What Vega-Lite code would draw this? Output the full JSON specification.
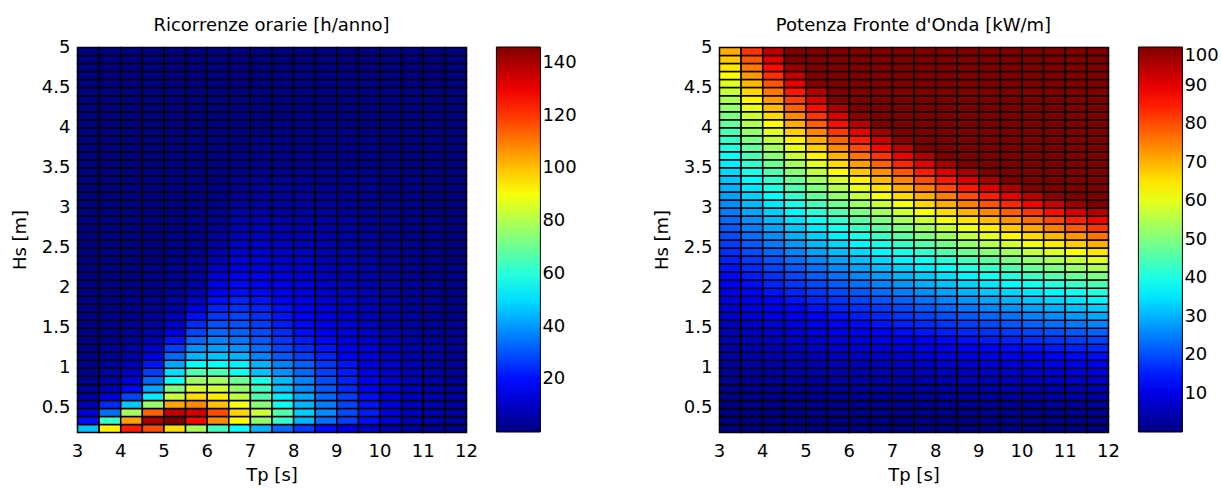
{
"$schema": "https://vega.github.io/schema/vega-lite/v6.json",
"background": "white",
"padding": {"left": 10, "top": 16, "right": 0, "bottom": 0},
"config": {
  "font": "DejaVu Sans",
  "view": {"stroke": "black", "strokeWidth": 1},
  "axis": {"grid": false, "ticks": false, "tickSize": 0, "domain": false, "labelFont": "DejaVu Sans", "labelFontSize": 18, "labelColor": "black", "titleFont": "DejaVu Sans", "titleFontSize": 18, "titleFontWeight": "normal", "titleColor": "black", "labelFlush": false, "labelOverlap": false},
  "axisX": {"labelPadding": 10, "titlePadding": 6},
  "axisY": {"labelPadding": 7, "titlePadding": 12},
  "title": {"font": "DejaVu Sans", "fontSize": 18, "fontWeight": "normal", "color": "black", "offset": 3, "baseline": "alphabetic", "frame": "group"},
  "legend": {"orient": "none", "legendX": 419.4, "legendY": 0, "direction": "vertical", "gradientLength": 385, "gradientThickness": 44, "gradientStrokeColor": "black", "gradientStrokeWidth": 1, "labelFont": "DejaVu Sans", "labelFontSize": 18, "labelColor": "black", "labelOffset": 2, "labelBaseline": "middle"}
},
"spacing": 253,
"bounds": "flush",
"resolve": {"scale": {"color": "independent"}, "legend": {"color": "independent"}},
"hconcat": [
 {
  "title": {"text": "Ricorrenze orarie [h/anno]"},
  "width": 389, "height": 385,
  "data": {"values": "t,h,v\n3,0.2,46\n3.5,0.2,93\n4,0.2,124\n4.5,0.2,117\n5,0.2,96\n5.5,0.2,79\n6,0.2,64\n6.5,0.2,55\n7,0.2,44\n7.5,0.2,33\n8,0.2,26\n8.5,0.2,20\n9,0.2,14\n9.5,0.2,10\n10,0.2,6\n10.5,0.2,4\n11,0.2,3\n11.5,0.2,2\n3,0.3,20\n3.5,0.3,62\n4,0.3,105\n4.5,0.3,140\n5,0.3,146\n5.5,0.3,128\n6,0.3,108\n6.5,0.3,92\n7,0.3,76\n7.5,0.3,62\n8,0.3,44\n8.5,0.3,34\n9,0.3,27\n9.5,0.3,20\n10,0.3,13\n10.5,0.3,8\n11,0.3,6\n11.5,0.3,4\n3,0.4,13\n3.5,0.4,34\n4,0.4,78\n4.5,0.4,114\n5,0.4,136\n5.5,0.4,134\n6,0.4,117\n6.5,0.4,97\n7,0.4,84\n7.5,0.4,66\n8,0.4,48\n8.5,0.4,38\n9,0.4,29\n9.5,0.4,22\n10,0.4,14\n10.5,0.4,9\n11,0.4,7\n11.5,0.4,5\n3,0.5,8\n3.5,0.5,24\n4,0.5,47\n4.5,0.5,76\n5,0.5,104\n5.5,0.5,108\n6,0.5,100\n6.5,0.5,90\n7,0.5,74\n7.5,0.5,56\n8,0.5,44\n8.5,0.5,36\n9,0.5,28\n9.5,0.5,21\n10,0.5,14\n10.5,0.5,9\n11,0.5,7\n11.5,0.5,5\n3,0.6,5\n3.5,0.6,14\n4,0.6,28\n4.5,0.6,52\n5,0.6,83\n5.5,0.6,96\n6,0.6,94\n6.5,0.6,82\n7,0.6,66\n7.5,0.6,52\n8,0.6,42\n8.5,0.6,33\n9,0.6,27\n9.5,0.6,20\n10,0.6,14\n10.5,0.6,9\n11,0.6,7\n11.5,0.6,5\n3,0.7,4\n3.5,0.7,9\n4,0.7,19\n4.5,0.7,42\n5,0.7,73\n5.5,0.7,85\n6,0.7,84\n6.5,0.7,76\n7,0.7,63\n7.5,0.7,46\n8,0.7,38\n8.5,0.7,31\n9,0.7,24\n9.5,0.7,18\n10,0.7,13\n10.5,0.7,9\n11,0.7,6\n11.5,0.7,4\n3,0.8,3\n3.5,0.8,6\n4,0.8,14\n4.5,0.8,33\n5,0.8,56\n5.5,0.8,77\n6,0.8,78\n6.5,0.8,70\n7,0.8,58\n7.5,0.8,45\n8,0.8,37\n8.5,0.8,29\n9,0.8,23\n9.5,0.8,17\n10,0.8,12\n10.5,0.8,8\n11,0.8,6\n11.5,0.8,4\n3,0.9,2\n3.5,0.9,5\n4,0.9,10\n4.5,0.9,27\n5,0.9,50\n5.5,0.9,66\n6,0.9,65\n6.5,0.9,56\n7,0.9,46\n7.5,0.9,39\n8,0.9,33\n8.5,0.9,27\n9,0.9,22\n9.5,0.9,16\n10,0.9,11\n10.5,0.9,8\n11,0.9,6\n11.5,0.9,4\n3,1,2\n3.5,1,4\n4,1,8\n4.5,1,21\n5,1,42\n5.5,1,55\n6,1,55\n6.5,1,53\n7,1,44\n7.5,1,37\n8,1,32\n8.5,1,26\n9,1,21\n9.5,1,15\n10,1,11\n10.5,1,8\n11,1,5\n11.5,1,4\n3,1.1,2\n3.5,1.1,3\n4,1.1,6\n4.5,1.1,15\n5,1.1,33\n5.5,1.1,44\n6,1.1,46\n6.5,1.1,44\n7,1.1,37\n7.5,1.1,31\n8,1.1,27\n8.5,1.1,23\n9,1.1,18\n9.5,1.1,14\n10,1.1,10\n10.5,1.1,7\n11,1.1,5\n11.5,1.1,3\n3,1.2,1\n3.5,1.2,3\n4,1.2,5\n4.5,1.2,11\n5,1.2,27\n5.5,1.2,39\n6,1.2,41\n6.5,1.2,39\n7,1.2,34\n7.5,1.2,28\n8,1.2,24\n8.5,1.2,21\n9,1.2,17\n9.5,1.2,13\n10,1.2,9\n10.5,1.2,7\n11,1.2,5\n11.5,1.2,3\n3,1.3,1\n3.5,1.3,2\n4,1.3,4\n4.5,1.3,8\n5,1.3,21\n5.5,1.3,33\n6,1.3,37\n6.5,1.3,35\n7,1.3,31\n7.5,1.3,26\n8,1.3,22\n8.5,1.3,19\n9,1.3,15\n9.5,1.3,12\n10,1.3,8\n10.5,1.3,6\n11,1.3,4\n11.5,1.3,3\n3,1.4,1\n3.5,1.4,2\n4,1.4,3\n4.5,1.4,6\n5,1.4,15\n5.5,1.4,28\n6,1.4,33\n6.5,1.4,32\n7,1.4,29\n7.5,1.4,24\n8,1.4,20\n8.5,1.4,17\n9,1.4,14\n9.5,1.4,11\n10,1.4,8\n10.5,1.4,5\n11,1.4,4\n11.5,1.4,3\n3,1.5,1\n3.5,1.5,2\n4,1.5,3\n4.5,1.5,5\n5,1.5,11\n5.5,1.5,24\n6,1.5,30\n6.5,1.5,30\n7,1.5,27\n7.5,1.5,22\n8,1.5,19\n8.5,1.5,16\n9,1.5,13\n9.5,1.5,10\n10,1.5,7\n10.5,1.5,5\n11,1.5,4\n11.5,1.5,3\n3,1.6,1\n3.5,1.6,2\n4,1.6,2\n4.5,1.6,4\n5,1.6,8\n5.5,1.6,20\n6,1.6,26\n6.5,1.6,28\n7,1.6,25\n7.5,1.6,21\n8,1.6,18\n8.5,1.6,15\n9,1.6,12\n9.5,1.6,9\n10,1.6,7\n10.5,1.6,5\n11,1.6,3\n11.5,1.6,2\n3,1.7,1\n3.5,1.7,1\n4,1.7,2\n4.5,1.7,3\n5,1.7,6\n5.5,1.7,15\n6,1.7,23\n6.5,1.7,25\n7,1.7,23\n7.5,1.7,20\n8,1.7,17\n8.5,1.7,14\n9,1.7,11\n9.5,1.7,9\n10,1.7,6\n10.5,1.7,4\n11,1.7,3\n11.5,1.7,2\n3,1.8,1\n3.5,1.8,1\n4,1.8,2\n4.5,1.8,3\n5,1.8,5\n5.5,1.8,10\n6,1.8,20\n6.5,1.8,23\n7,1.8,21\n7.5,1.8,18\n8,1.8,16\n8.5,1.8,13\n9,1.8,11\n9.5,1.8,8\n10,1.8,6\n10.5,1.8,4\n11,1.8,3\n11.5,1.8,2\n3,1.9,1\n3.5,1.9,1\n4,1.9,2\n4.5,1.9,2\n5,1.9,4\n5.5,1.9,8\n6,1.9,17\n6.5,1.9,20\n7,1.9,19\n7.5,1.9,17\n8,1.9,15\n8.5,1.9,12\n9,1.9,10\n9.5,1.9,8\n10,1.9,5\n10.5,1.9,4\n11,1.9,3\n11.5,1.9,2\n3,2,1\n3.5,2,1\n4,2,1\n4.5,2,2\n5,2,3\n5.5,2,6\n6,2,16\n6.5,2,19\n7,2,18\n7.5,2,16\n8,2,14\n8.5,2,11\n9,2,9\n9.5,2,7\n10,2,5\n10.5,2,4\n11,2,3\n11.5,2,2\n3,2.1,1\n3.5,2.1,1\n4,2.1,1\n4.5,2.1,2\n5,2.1,3\n5.5,2.1,5\n6,2.1,14\n6.5,2.1,18\n7,2.1,17\n7.5,2.1,15\n8,2.1,13\n8.5,2.1,10\n9,2.1,8\n9.5,2.1,7\n10,2.1,5\n10.5,2.1,3\n11,2.1,2\n11.5,2.1,2\n3,2.2,1\n3.5,2.2,1\n4,2.2,1\n4.5,2.2,2\n5,2.2,3\n5.5,2.2,4\n6,2.2,11\n6.5,2.2,15\n7,2.2,15\n7.5,2.2,13\n8,2.2,12\n8.5,2.2,9\n9,2.2,8\n9.5,2.2,6\n10,2.2,4\n10.5,2.2,3\n11,2.2,2\n11.5,2.2,2\n3,2.3,1\n3.5,2.3,1\n4,2.3,1\n4.5,2.3,1\n5,2.3,2\n5.5,2.3,4\n6,2.3,9\n6.5,2.3,14\n7,2.3,14\n7.5,2.3,12\n8,2.3,11\n8.5,2.3,9\n9,2.3,7\n9.5,2.3,6\n10,2.3,4\n10.5,2.3,3\n11,2.3,2\n11.5,2.3,1\n3,2.4,1\n3.5,2.4,1\n4,2.4,1\n4.5,2.4,1\n5,2.4,2\n5.5,2.4,3\n6,2.4,7\n6.5,2.4,12\n7,2.4,13\n7.5,2.4,11\n8,2.4,10\n8.5,2.4,8\n9,2.4,7\n9.5,2.4,5\n10,2.4,4\n10.5,2.4,3\n11,2.4,2\n11.5,2.4,1\n3,2.5,1\n3.5,2.5,1\n4,2.5,1\n4.5,2.5,1\n5,2.5,2\n5.5,2.5,3\n6,2.5,6\n6.5,2.5,11\n7,2.5,12\n7.5,2.5,10\n8,2.5,9\n8.5,2.5,8\n9,2.5,6\n9.5,2.5,5\n10,2.5,4\n10.5,2.5,3\n11,2.5,2\n11.5,2.5,1\n3,2.6,1\n3.5,2.6,1\n4,2.6,1\n4.5,2.6,1\n5,2.6,2\n5.5,2.6,2\n6,2.6,5\n6.5,2.6,9\n7,2.6,10\n7.5,2.6,9\n8,2.6,8\n8.5,2.6,7\n9,2.6,6\n9.5,2.6,5\n10,2.6,3\n10.5,2.6,2\n11,2.6,2\n11.5,2.6,1\n3,2.7,1\n3.5,2.7,1\n4,2.7,1\n4.5,2.7,1\n5,2.7,1\n5.5,2.7,2\n6,2.7,4\n6.5,2.7,8\n7,2.7,9\n7.5,2.7,8\n8,2.7,7\n8.5,2.7,6\n9,2.7,5\n9.5,2.7,4\n10,2.7,3\n10.5,2.7,2\n11,2.7,2\n11.5,2.7,1\n3,2.8,1\n3.5,2.8,1\n4,2.8,1\n4.5,2.8,1\n5,2.8,1\n5.5,2.8,2\n6,2.8,3\n6.5,2.8,7\n7,2.8,8\n7.5,2.8,7\n8,2.8,6\n8.5,2.8,6\n9,2.8,5\n9.5,2.8,4\n10,2.8,3\n10.5,2.8,2\n11,2.8,2\n11.5,2.8,1\n3,2.9,0\n3.5,2.9,1\n4,2.9,1\n4.5,2.9,1\n5,2.9,1\n5.5,2.9,2\n6,2.9,3\n6.5,2.9,6\n7,2.9,7\n7.5,2.9,6\n8,2.9,6\n8.5,2.9,5\n9,2.9,4\n9.5,2.9,4\n10,2.9,3\n10.5,2.9,2\n11,2.9,1\n11.5,2.9,1\n3,3,0\n3.5,3,1\n4,3,1\n4.5,3,1\n5,3,1\n5.5,3,1\n6,3,2\n6.5,3,5\n7,3,6\n7.5,3,6\n8,3,5\n8.5,3,5\n9,3,4\n9.5,3,3\n10,3,3\n10.5,3,2\n11,3,1\n11.5,3,1\n3,3.1,0\n3.5,3.1,0\n4,3.1,1\n4.5,3.1,1\n5,3.1,1\n5.5,3.1,1\n6,3.1,2\n6.5,3.1,4\n7,3.1,5\n7.5,3.1,5\n8,3.1,5\n8.5,3.1,4\n9,3.1,4\n9.5,3.1,3\n10,3.1,2\n10.5,3.1,2\n11,3.1,1\n11.5,3.1,1\n3,3.2,0\n3.5,3.2,0\n4,3.2,1\n4.5,3.2,1\n5,3.2,1\n5.5,3.2,1\n6,3.2,2\n6.5,3.2,3\n7,3.2,4\n7.5,3.2,4\n8,3.2,4\n8.5,3.2,4\n9,3.2,3\n9.5,3.2,3\n10,3.2,2\n10.5,3.2,2\n11,3.2,1\n11.5,3.2,1\n3,3.3,0\n3.5,3.3,0\n4,3.3,0\n4.5,3.3,1\n5,3.3,1\n5.5,3.3,1\n6,3.3,1\n6.5,3.3,3\n7,3.3,4\n7.5,3.3,4\n8,3.3,4\n8.5,3.3,3\n9,3.3,3\n9.5,3.3,3\n10,3.3,2\n10.5,3.3,2\n11,3.3,1\n11.5,3.3,1\n3,3.4,0\n3.5,3.4,0\n4,3.4,0\n4.5,3.4,1\n5,3.4,1\n5.5,3.4,1\n6,3.4,1\n6.5,3.4,2\n7,3.4,3\n7.5,3.4,3\n8,3.4,3\n8.5,3.4,3\n9,3.4,3\n9.5,3.4,2\n10,3.4,2\n10.5,3.4,1\n11,3.4,1\n11.5,3.4,1\n3,3.5,0\n3.5,3.5,0\n4,3.5,0\n4.5,3.5,0\n5,3.5,1\n5.5,3.5,1\n6,3.5,1\n6.5,3.5,2\n7,3.5,3\n7.5,3.5,3\n8,3.5,3\n8.5,3.5,3\n9,3.5,2\n9.5,3.5,2\n10,3.5,2\n10.5,3.5,1\n11,3.5,1\n11.5,3.5,1\n3,3.6,0\n3.5,3.6,0\n4,3.6,0\n4.5,3.6,0\n5,3.6,1\n5.5,3.6,1\n6,3.6,1\n6.5,3.6,2\n7,3.6,2\n7.5,3.6,3\n8,3.6,3\n8.5,3.6,2\n9,3.6,2\n9.5,3.6,2\n10,3.6,2\n10.5,3.6,1\n11,3.6,1\n11.5,3.6,1\n3,3.7,0\n3.5,3.7,0\n4,3.7,0\n4.5,3.7,0\n5,3.7,0\n5.5,3.7,1\n6,3.7,1\n6.5,3.7,1\n7,3.7,2\n7.5,3.7,2\n8,3.7,2\n8.5,3.7,2\n9,3.7,2\n9.5,3.7,2\n10,3.7,1\n10.5,3.7,1\n11,3.7,1\n11.5,3.7,1\n3,3.8,0\n3.5,3.8,0\n4,3.8,0\n4.5,3.8,0\n5,3.8,0\n5.5,3.8,1\n6,3.8,1\n6.5,3.8,1\n7,3.8,2\n7.5,3.8,2\n8,3.8,2\n8.5,3.8,2\n9,3.8,2\n9.5,3.8,2\n10,3.8,1\n10.5,3.8,1\n11,3.8,1\n11.5,3.8,1\n3,3.9,0\n3.5,3.9,0\n4,3.9,0\n4.5,3.9,0\n5,3.9,0\n5.5,3.9,0\n6,3.9,1\n6.5,3.9,1\n7,3.9,1\n7.5,3.9,2\n8,3.9,2\n8.5,3.9,2\n9,3.9,2\n9.5,3.9,1\n10,3.9,1\n10.5,3.9,1\n11,3.9,1\n11.5,3.9,1\n3,4,0\n3.5,4,0\n4,4,0\n4.5,4,0\n5,4,0\n5.5,4,0\n6,4,1\n6.5,4,1\n7,4,1\n7.5,4,2\n8,4,2\n8.5,4,2\n9,4,1\n9.5,4,1\n10,4,1\n10.5,4,1\n11,4,1\n11.5,4,1\n3,4.1,0\n3.5,4.1,0\n4,4.1,0\n4.5,4.1,0\n5,4.1,0\n5.5,4.1,0\n6,4.1,0\n6.5,4.1,1\n7,4.1,1\n7.5,4.1,1\n8,4.1,2\n8.5,4.1,1\n9,4.1,1\n9.5,4.1,1\n10,4.1,1\n10.5,4.1,1\n11,4.1,1\n11.5,4.1,1\n3,4.2,0\n3.5,4.2,0\n4,4.2,0\n4.5,4.2,0\n5,4.2,0\n5.5,4.2,0\n6,4.2,0\n6.5,4.2,1\n7,4.2,1\n7.5,4.2,1\n8,4.2,1\n8.5,4.2,1\n9,4.2,1\n9.5,4.2,1\n10,4.2,1\n10.5,4.2,1\n11,4.2,1\n11.5,4.2,0\n3,4.3,0\n3.5,4.3,0\n4,4.3,0\n4.5,4.3,0\n5,4.3,0\n5.5,4.3,0\n6,4.3,0\n6.5,4.3,0\n7,4.3,1\n7.5,4.3,1\n8,4.3,1\n8.5,4.3,1\n9,4.3,1\n9.5,4.3,1\n10,4.3,1\n10.5,4.3,1\n11,4.3,0\n11.5,4.3,0\n3,4.4,0\n3.5,4.4,0\n4,4.4,0\n4.5,4.4,0\n5,4.4,0\n5.5,4.4,0\n6,4.4,0\n6.5,4.4,0\n7,4.4,1\n7.5,4.4,1\n8,4.4,1\n8.5,4.4,1\n9,4.4,1\n9.5,4.4,1\n10,4.4,1\n10.5,4.4,0\n11,4.4,0\n11.5,4.4,0\n3,4.5,0\n3.5,4.5,0\n4,4.5,0\n4.5,4.5,0\n5,4.5,0\n5.5,4.5,0\n6,4.5,0\n6.5,4.5,0\n7,4.5,0\n7.5,4.5,1\n8,4.5,1\n8.5,4.5,1\n9,4.5,1\n9.5,4.5,1\n10,4.5,0\n10.5,4.5,0\n11,4.5,0\n11.5,4.5,0\n3,4.6,0\n3.5,4.6,0\n4,4.6,0\n4.5,4.6,0\n5,4.6,0\n5.5,4.6,0\n6,4.6,0\n6.5,4.6,0\n7,4.6,0\n7.5,4.6,1\n8,4.6,1\n8.5,4.6,1\n9,4.6,1\n9.5,4.6,0\n10,4.6,0\n10.5,4.6,0\n11,4.6,0\n11.5,4.6,0\n3,4.7,0\n3.5,4.7,0\n4,4.7,0\n4.5,4.7,0\n5,4.7,0\n5.5,4.7,0\n6,4.7,0\n6.5,4.7,0\n7,4.7,0\n7.5,4.7,0\n8,4.7,1\n8.5,4.7,1\n9,4.7,0\n9.5,4.7,0\n10,4.7,0\n10.5,4.7,0\n11,4.7,0\n11.5,4.7,0\n3,4.8,0\n3.5,4.8,0\n4,4.8,0\n4.5,4.8,0\n5,4.8,0\n5.5,4.8,0\n6,4.8,0\n6.5,4.8,0\n7,4.8,0\n7.5,4.8,0\n8,4.8,0\n8.5,4.8,0\n9,4.8,0\n9.5,4.8,0\n10,4.8,0\n10.5,4.8,0\n11,4.8,0\n11.5,4.8,0\n3,4.9,0\n3.5,4.9,0\n4,4.9,0\n4.5,4.9,0\n5,4.9,0\n5.5,4.9,0\n6,4.9,0\n6.5,4.9,0\n7,4.9,0\n7.5,4.9,0\n8,4.9,0\n8.5,4.9,0\n9,4.9,0\n9.5,4.9,0\n10,4.9,0\n10.5,4.9,0\n11,4.9,0\n11.5,4.9,0", "format": {"type": "csv", "parse": {"t": "number", "h": "number", "v": "number"}}},
  "mark": {"type": "rect", "stroke": "black", "strokeWidth": 1.5},
  "encoding": {
    "x": {"field": "t", "type": "quantitative", "bin": {"binned": true, "step": 0.5}, "scale": {"domain": [3, 12], "nice": false, "zero": false}, "axis": {"title": "Tp [s]", "values": [3,4,5,6,7,8,9,10,11,12], "format": "~g"}},
    "y": {"field": "h", "type": "quantitative", "bin": {"binned": true, "step": 0.1}, "scale": {"domain": [0.2, 5], "nice": false, "zero": false}, "axis": {"title": "Hs [m]", "values": [0.5,1,1.5,2,2.5,3,3.5,4,4.5,5], "format": "~g"}},
    "color": {"field": "v", "type": "quantitative", "scale": {"domain": [0,18.25,36.5,54.75,73,91.25,109.5,127.75,146], "range": ["#000080","#0000ff","#0080ff","#00ffff","#80ff80","#ffff00","#ff8000","#ff0000","#800000"], "interpolate": "rgb", "clamp": true, "zero": false, "nice": false}, "legend": {"title": null, "values": [20,40,60,80,100,120,140]}}
  }
 },
 {
  "title": {"text": "Potenza Fronte d'Onda [kW/m]"},
  "width": 389, "height": 385,
  "data": {"values": "t,h,v\n3,0.2,0.1\n3.5,0.2,0.1\n4,0.2,0.2\n4.5,0.2,0.2\n5,0.2,0.2\n5.5,0.2,0.2\n6,0.2,0.2\n6.5,0.2,0.3\n7,0.2,0.3\n7.5,0.2,0.3\n8,0.2,0.3\n8.5,0.2,0.3\n9,0.2,0.4\n9.5,0.2,0.4\n10,0.2,0.4\n10.5,0.2,0.4\n11,0.2,0.4\n11.5,0.2,0.5\n3,0.3,0.3\n3.5,0.3,0.3\n4,0.3,0.4\n4.5,0.3,0.4\n5,0.3,0.4\n5.5,0.3,0.5\n6,0.3,0.5\n6.5,0.3,0.6\n7,0.3,0.6\n7.5,0.3,0.7\n8,0.3,0.7\n8.5,0.3,0.7\n9,0.3,0.8\n9.5,0.3,0.8\n10,0.3,0.9\n10.5,0.3,0.9\n11,0.3,1\n11.5,0.3,1\n3,0.4,0.5\n3.5,0.4,0.5\n4,0.4,0.6\n4.5,0.4,0.7\n5,0.4,0.8\n5.5,0.4,0.9\n6,0.4,0.9\n6.5,0.4,1\n7,0.4,1.1\n7.5,0.4,1.2\n8,0.4,1.3\n8.5,0.4,1.3\n9,0.4,1.4\n9.5,0.4,1.5\n10,0.4,1.6\n10.5,0.4,1.6\n11,0.4,1.7\n11.5,0.4,1.8\n3,0.5,0.7\n3.5,0.5,0.9\n4,0.5,1\n4.5,0.5,1.1\n5,0.5,1.2\n5.5,0.5,1.3\n6,0.5,1.5\n6.5,0.5,1.6\n7,0.5,1.7\n7.5,0.5,1.8\n8,0.5,2\n8.5,0.5,2.1\n9,0.5,2.2\n9.5,0.5,2.3\n10,0.5,2.5\n10.5,0.5,2.6\n11,0.5,2.7\n11.5,0.5,2.8\n3,0.6,1.1\n3.5,0.6,1.2\n4,0.6,1.4\n4.5,0.6,1.6\n5,0.6,1.8\n5.5,0.6,1.9\n6,0.6,2.1\n6.5,0.6,2.3\n7,0.6,2.5\n7.5,0.6,2.6\n8,0.6,2.8\n8.5,0.6,3\n9,0.6,3.2\n9.5,0.6,3.4\n10,0.6,3.5\n10.5,0.6,3.7\n11,0.6,3.9\n11.5,0.6,4.1\n3,0.7,1.4\n3.5,0.7,1.7\n4,0.7,1.9\n4.5,0.7,2.2\n5,0.7,2.4\n5.5,0.7,2.6\n6,0.7,2.9\n6.5,0.7,3.1\n7,0.7,3.4\n7.5,0.7,3.6\n8,0.7,3.8\n8.5,0.7,4.1\n9,0.7,4.3\n9.5,0.7,4.6\n10,0.7,4.8\n10.5,0.7,5\n11,0.7,5.3\n11.5,0.7,5.5\n3,0.8,1.9\n3.5,0.8,2.2\n4,0.8,2.5\n4.5,0.8,2.8\n5,0.8,3.1\n5.5,0.8,3.4\n6,0.8,3.8\n6.5,0.8,4.1\n7,0.8,4.4\n7.5,0.8,4.7\n8,0.8,5\n8.5,0.8,5.3\n9,0.8,5.6\n9.5,0.8,6\n10,0.8,6.3\n10.5,0.8,6.6\n11,0.8,6.9\n11.5,0.8,7.2\n3,0.9,2.4\n3.5,0.9,2.8\n4,0.9,3.2\n4.5,0.9,3.6\n5,0.9,4\n5.5,0.9,4.4\n6,0.9,4.8\n6.5,0.9,5.2\n7,0.9,5.6\n7.5,0.9,6\n8,0.9,6.4\n8.5,0.9,6.7\n9,0.9,7.1\n9.5,0.9,7.5\n10,0.9,7.9\n10.5,0.9,8.3\n11,0.9,8.7\n11.5,0.9,9.1\n3,1,2.9\n3.5,1,3.4\n4,1,3.9\n4.5,1,4.4\n5,1,4.9\n5.5,1,5.4\n6,1,5.9\n6.5,1,6.4\n7,1,6.9\n7.5,1,7.4\n8,1,7.8\n8.5,1,8.3\n9,1,8.8\n9.5,1,9.3\n10,1,9.8\n10.5,1,10.3\n11,1,10.8\n11.5,1,11.3\n3,1.1,3.6\n3.5,1.1,4.2\n4,1.1,4.7\n4.5,1.1,5.3\n5,1.1,5.9\n5.5,1.1,6.5\n6,1.1,7.1\n6.5,1.1,7.7\n7,1.1,8.3\n7.5,1.1,8.9\n8,1.1,9.5\n8.5,1.1,10.1\n9,1.1,10.7\n9.5,1.1,11.3\n10,1.1,11.9\n10.5,1.1,12.5\n11,1.1,13\n11.5,1.1,13.6\n3,1.2,4.2\n3.5,1.2,4.9\n4,1.2,5.6\n4.5,1.2,6.4\n5,1.2,7.1\n5.5,1.2,7.8\n6,1.2,8.5\n6.5,1.2,9.2\n7,1.2,9.9\n7.5,1.2,10.6\n8,1.2,11.3\n8.5,1.2,12\n9,1.2,12.7\n9.5,1.2,13.4\n10,1.2,14.1\n10.5,1.2,14.8\n11,1.2,15.5\n11.5,1.2,16.2\n3,1.3,5\n3.5,1.3,5.8\n4,1.3,6.6\n4.5,1.3,7.5\n5,1.3,8.3\n5.5,1.3,9.1\n6,1.3,9.9\n6.5,1.3,10.8\n7,1.3,11.6\n7.5,1.3,12.4\n8,1.3,13.2\n8.5,1.3,14.1\n9,1.3,14.9\n9.5,1.3,15.7\n10,1.3,16.6\n10.5,1.3,17.4\n11,1.3,18.2\n11.5,1.3,19\n3,1.4,5.8\n3.5,1.4,6.7\n4,1.4,7.7\n4.5,1.4,8.6\n5,1.4,9.6\n5.5,1.4,10.6\n6,1.4,11.5\n6.5,1.4,12.5\n7,1.4,13.4\n7.5,1.4,14.4\n8,1.4,15.4\n8.5,1.4,16.3\n9,1.4,17.3\n9.5,1.4,18.2\n10,1.4,19.2\n10.5,1.4,20.2\n11,1.4,21.1\n11.5,1.4,22.1\n3,1.5,6.6\n3.5,1.5,7.7\n4,1.5,8.8\n4.5,1.5,9.9\n5,1.5,11\n5.5,1.5,12.1\n6,1.5,13.2\n6.5,1.5,14.3\n7,1.5,15.4\n7.5,1.5,16.5\n8,1.5,17.6\n8.5,1.5,18.7\n9,1.5,19.8\n9.5,1.5,20.9\n10,1.5,22.1\n10.5,1.5,23.2\n11,1.5,24.3\n11.5,1.5,25.4\n3,1.6,7.5\n3.5,1.6,8.8\n4,1.6,10\n4.5,1.6,11.3\n5,1.6,12.5\n5.5,1.6,13.8\n6,1.6,15.1\n6.5,1.6,16.3\n7,1.6,17.6\n7.5,1.6,18.8\n8,1.6,20.1\n8.5,1.6,21.3\n9,1.6,22.6\n9.5,1.6,23.8\n10,1.6,25.1\n10.5,1.6,26.3\n11,1.6,27.6\n11.5,1.6,28.9\n3,1.7,8.5\n3.5,1.7,9.9\n4,1.7,11.3\n4.5,1.7,12.7\n5,1.7,14.2\n5.5,1.7,15.6\n6,1.7,17\n6.5,1.7,18.4\n7,1.7,19.8\n7.5,1.7,21.2\n8,1.7,22.7\n8.5,1.7,24.1\n9,1.7,25.5\n9.5,1.7,26.9\n10,1.7,28.3\n10.5,1.7,29.7\n11,1.7,31.2\n11.5,1.7,32.6\n3,1.8,9.5\n3.5,1.8,11.1\n4,1.8,12.7\n4.5,1.8,14.3\n5,1.8,15.9\n5.5,1.8,17.5\n6,1.8,19.1\n6.5,1.8,20.6\n7,1.8,22.2\n7.5,1.8,23.8\n8,1.8,25.4\n8.5,1.8,27\n9,1.8,28.6\n9.5,1.8,30.2\n10,1.8,31.8\n10.5,1.8,33.3\n11,1.8,34.9\n11.5,1.8,36.5\n3,1.9,10.6\n3.5,1.9,12.4\n4,1.9,14.2\n4.5,1.9,15.9\n5,1.9,17.7\n5.5,1.9,19.5\n6,1.9,21.2\n6.5,1.9,23\n7,1.9,24.8\n7.5,1.9,26.5\n8,1.9,28.3\n8.5,1.9,30.1\n9,1.9,31.8\n9.5,1.9,33.6\n10,1.9,35.4\n10.5,1.9,37.1\n11,1.9,38.9\n11.5,1.9,40.7\n3,2,11.8\n3.5,2,13.7\n4,2,15.7\n4.5,2,17.6\n5,2,19.6\n5.5,2,21.6\n6,2,23.5\n6.5,2,25.5\n7,2,27.4\n7.5,2,29.4\n8,2,31.4\n8.5,2,33.3\n9,2,35.3\n9.5,2,37.2\n10,2,39.2\n10.5,2,41.2\n11,2,43.1\n11.5,2,45.1\n3,2.1,13\n3.5,2.1,15.1\n4,2.1,17.3\n4.5,2.1,19.4\n5,2.1,21.6\n5.5,2.1,23.8\n6,2.1,25.9\n6.5,2.1,28.1\n7,2.1,30.3\n7.5,2.1,32.4\n8,2.1,34.6\n8.5,2.1,36.7\n9,2.1,38.9\n9.5,2.1,41.1\n10,2.1,43.2\n10.5,2.1,45.4\n11,2.1,47.5\n11.5,2.1,49.7\n3,2.2,14.2\n3.5,2.2,16.6\n4,2.2,19\n4.5,2.2,21.3\n5,2.2,23.7\n5.5,2.2,26.1\n6,2.2,28.5\n6.5,2.2,30.8\n7,2.2,33.2\n7.5,2.2,35.6\n8,2.2,37.9\n8.5,2.2,40.3\n9,2.2,42.7\n9.5,2.2,45.1\n10,2.2,47.4\n10.5,2.2,49.8\n11,2.2,52.2\n11.5,2.2,54.5\n3,2.3,15.6\n3.5,2.3,18.1\n4,2.3,20.7\n4.5,2.3,23.3\n5,2.3,25.9\n5.5,2.3,28.5\n6,2.3,31.1\n6.5,2.3,33.7\n7,2.3,36.3\n7.5,2.3,38.9\n8,2.3,41.5\n8.5,2.3,44.1\n9,2.3,46.7\n9.5,2.3,49.3\n10,2.3,51.8\n10.5,2.3,54.4\n11,2.3,57\n11.5,2.3,59.6\n3,2.4,16.9\n3.5,2.4,19.8\n4,2.4,22.6\n4.5,2.4,25.4\n5,2.4,28.2\n5.5,2.4,31\n6,2.4,33.9\n6.5,2.4,36.7\n7,2.4,39.5\n7.5,2.4,42.3\n8,2.4,45.2\n8.5,2.4,48\n9,2.4,50.8\n9.5,2.4,53.6\n10,2.4,56.4\n10.5,2.4,59.3\n11,2.4,62.1\n11.5,2.4,64.9\n3,2.5,18.4\n3.5,2.5,21.4\n4,2.5,24.5\n4.5,2.5,27.6\n5,2.5,30.6\n5.5,2.5,33.7\n6,2.5,36.8\n6.5,2.5,39.8\n7,2.5,42.9\n7.5,2.5,45.9\n8,2.5,49\n8.5,2.5,52.1\n9,2.5,55.1\n9.5,2.5,58.2\n10,2.5,61.3\n10.5,2.5,64.3\n11,2.5,67.4\n11.5,2.5,70.4\n3,2.6,19.9\n3.5,2.6,23.2\n4,2.6,26.5\n4.5,2.6,29.8\n5,2.6,33.1\n5.5,2.6,36.4\n6,2.6,39.7\n6.5,2.6,43.1\n7,2.6,46.4\n7.5,2.6,49.7\n8,2.6,53\n8.5,2.6,56.3\n9,2.6,59.6\n9.5,2.6,62.9\n10,2.6,66.2\n10.5,2.6,69.6\n11,2.6,72.9\n11.5,2.6,76.2\n3,2.7,21.4\n3.5,2.7,25\n4,2.7,28.6\n4.5,2.7,32.1\n5,2.7,35.7\n5.5,2.7,39.3\n6,2.7,42.9\n6.5,2.7,46.4\n7,2.7,50\n7.5,2.7,53.6\n8,2.7,57.2\n8.5,2.7,60.7\n9,2.7,64.3\n9.5,2.7,67.9\n10,2.7,71.4\n10.5,2.7,75\n11,2.7,78.6\n11.5,2.7,82.2\n3,2.8,23\n3.5,2.8,26.9\n4,2.8,30.7\n4.5,2.8,34.6\n5,2.8,38.4\n5.5,2.8,42.3\n6,2.8,46.1\n6.5,2.8,49.9\n7,2.8,53.8\n7.5,2.8,57.6\n8,2.8,61.5\n8.5,2.8,65.3\n9,2.8,69.1\n9.5,2.8,73\n10,2.8,76.8\n10.5,2.8,80.7\n11,2.8,84.5\n11.5,2.8,88.4\n3,2.9,24.7\n3.5,2.9,28.8\n4,2.9,33\n4.5,2.9,37.1\n5,2.9,41.2\n5.5,2.9,45.3\n6,2.9,49.5\n6.5,2.9,53.6\n7,2.9,57.7\n7.5,2.9,61.8\n8,2.9,65.9\n8.5,2.9,70.1\n9,2.9,74.2\n9.5,2.9,78.3\n10,2.9,82.4\n10.5,2.9,86.5\n11,2.9,90.7\n11.5,2.9,94.8\n3,3,26.5\n3.5,3,30.9\n4,3,35.3\n4.5,3,39.7\n5,3,44.1\n5.5,3,48.5\n6,3,52.9\n6.5,3,57.3\n7,3,61.7\n7.5,3,66.2\n8,3,70.6\n8.5,3,75\n9,3,79.4\n9.5,3,83.8\n10,3,88.2\n10.5,3,92.6\n11,3,97\n11.5,3,100\n3,3.1,28.3\n3.5,3.1,33\n4,3.1,37.7\n4.5,3.1,42.4\n5,3.1,47.1\n5.5,3.1,51.8\n6,3.1,56.5\n6.5,3.1,61.2\n7,3.1,65.9\n7.5,3.1,70.6\n8,3.1,75.3\n8.5,3.1,80.1\n9,3.1,84.8\n9.5,3.1,89.5\n10,3.1,94.2\n10.5,3.1,98.9\n11,3.1,100\n11.5,3.1,100\n3,3.2,30.1\n3.5,3.2,35.1\n4,3.2,40.1\n4.5,3.2,45.2\n5,3.2,50.2\n5.5,3.2,55.2\n6,3.2,60.2\n6.5,3.2,65.2\n7,3.2,70.2\n7.5,3.2,75.3\n8,3.2,80.3\n8.5,3.2,85.3\n9,3.2,90.3\n9.5,3.2,95.3\n10,3.2,100\n10.5,3.2,100\n11,3.2,100\n11.5,3.2,100\n3,3.3,32\n3.5,3.3,37.4\n4,3.3,42.7\n4.5,3.3,48\n5,3.3,53.4\n5.5,3.3,58.7\n6,3.3,64\n6.5,3.3,69.4\n7,3.3,74.7\n7.5,3.3,80\n8,3.3,85.4\n8.5,3.3,90.7\n9,3.3,96\n9.5,3.3,100\n10,3.3,100\n10.5,3.3,100\n11,3.3,100\n11.5,3.3,100\n3,3.4,34\n3.5,3.4,39.7\n4,3.4,45.3\n4.5,3.4,51\n5,3.4,56.6\n5.5,3.4,62.3\n6,3.4,68\n6.5,3.4,73.6\n7,3.4,79.3\n7.5,3.4,85\n8,3.4,90.6\n8.5,3.4,96.3\n9,3.4,100\n9.5,3.4,100\n10,3.4,100\n10.5,3.4,100\n11,3.4,100\n11.5,3.4,100\n3,3.5,36\n3.5,3.5,42\n4,3.5,48\n4.5,3.5,54\n5,3.5,60\n5.5,3.5,66\n6,3.5,72\n6.5,3.5,78\n7,3.5,84\n7.5,3.5,90\n8,3.5,96\n8.5,3.5,100\n9,3.5,100\n9.5,3.5,100\n10,3.5,100\n10.5,3.5,100\n11,3.5,100\n11.5,3.5,100\n3,3.6,38.1\n3.5,3.6,44.5\n4,3.6,50.8\n4.5,3.6,57.2\n5,3.6,63.5\n5.5,3.6,69.9\n6,3.6,76.2\n6.5,3.6,82.6\n7,3.6,88.9\n7.5,3.6,95.3\n8,3.6,100\n8.5,3.6,100\n9,3.6,100\n9.5,3.6,100\n10,3.6,100\n10.5,3.6,100\n11,3.6,100\n11.5,3.6,100\n3,3.7,40.2\n3.5,3.7,47\n4,3.7,53.7\n4.5,3.7,60.4\n5,3.7,67.1\n5.5,3.7,73.8\n6,3.7,80.5\n6.5,3.7,87.2\n7,3.7,93.9\n7.5,3.7,100\n8,3.7,100\n8.5,3.7,100\n9,3.7,100\n9.5,3.7,100\n10,3.7,100\n10.5,3.7,100\n11,3.7,100\n11.5,3.7,100\n3,3.8,42.5\n3.5,3.8,49.5\n4,3.8,56.6\n4.5,3.8,63.7\n5,3.8,70.8\n5.5,3.8,77.8\n6,3.8,84.9\n6.5,3.8,92\n7,3.8,99.1\n7.5,3.8,100\n8,3.8,100\n8.5,3.8,100\n9,3.8,100\n9.5,3.8,100\n10,3.8,100\n10.5,3.8,100\n11,3.8,100\n11.5,3.8,100\n3,3.9,44.7\n3.5,3.9,52.2\n4,3.9,59.6\n4.5,3.9,67.1\n5,3.9,74.5\n5.5,3.9,82\n6,3.9,89.4\n6.5,3.9,96.9\n7,3.9,100\n7.5,3.9,100\n8,3.9,100\n8.5,3.9,100\n9,3.9,100\n9.5,3.9,100\n10,3.9,100\n10.5,3.9,100\n11,3.9,100\n11.5,3.9,100\n3,4,47\n3.5,4,54.9\n4,4,62.7\n4.5,4,70.6\n5,4,78.4\n5.5,4,86.2\n6,4,94.1\n6.5,4,100\n7,4,100\n7.5,4,100\n8,4,100\n8.5,4,100\n9,4,100\n9.5,4,100\n10,4,100\n10.5,4,100\n11,4,100\n11.5,4,100\n3,4.1,49.4\n3.5,4.1,57.7\n4,4.1,65.9\n4.5,4.1,74.1\n5,4.1,82.4\n5.5,4.1,90.6\n6,4.1,98.8\n6.5,4.1,100\n7,4.1,100\n7.5,4.1,100\n8,4.1,100\n8.5,4.1,100\n9,4.1,100\n9.5,4.1,100\n10,4.1,100\n10.5,4.1,100\n11,4.1,100\n11.5,4.1,100\n3,4.2,51.9\n3.5,4.2,60.5\n4,4.2,69.1\n4.5,4.2,77.8\n5,4.2,86.4\n5.5,4.2,95.1\n6,4.2,100\n6.5,4.2,100\n7,4.2,100\n7.5,4.2,100\n8,4.2,100\n8.5,4.2,100\n9,4.2,100\n9.5,4.2,100\n10,4.2,100\n10.5,4.2,100\n11,4.2,100\n11.5,4.2,100\n3,4.3,54.4\n3.5,4.3,63.4\n4,4.3,72.5\n4.5,4.3,81.5\n5,4.3,90.6\n5.5,4.3,99.7\n6,4.3,100\n6.5,4.3,100\n7,4.3,100\n7.5,4.3,100\n8,4.3,100\n8.5,4.3,100\n9,4.3,100\n9.5,4.3,100\n10,4.3,100\n10.5,4.3,100\n11,4.3,100\n11.5,4.3,100\n3,4.4,56.9\n3.5,4.4,66.4\n4,4.4,75.9\n4.5,4.4,85.4\n5,4.4,94.9\n5.5,4.4,100\n6,4.4,100\n6.5,4.4,100\n7,4.4,100\n7.5,4.4,100\n8,4.4,100\n8.5,4.4,100\n9,4.4,100\n9.5,4.4,100\n10,4.4,100\n10.5,4.4,100\n11,4.4,100\n11.5,4.4,100\n3,4.5,59.5\n3.5,4.5,69.5\n4,4.5,79.4\n4.5,4.5,89.3\n5,4.5,99.2\n5.5,4.5,100\n6,4.5,100\n6.5,4.5,100\n7,4.5,100\n7.5,4.5,100\n8,4.5,100\n8.5,4.5,100\n9,4.5,100\n9.5,4.5,100\n10,4.5,100\n10.5,4.5,100\n11,4.5,100\n11.5,4.5,100\n3,4.6,62.2\n3.5,4.6,72.6\n4,4.6,82.9\n4.5,4.6,93.3\n5,4.6,100\n5.5,4.6,100\n6,4.6,100\n6.5,4.6,100\n7,4.6,100\n7.5,4.6,100\n8,4.6,100\n8.5,4.6,100\n9,4.6,100\n9.5,4.6,100\n10,4.6,100\n10.5,4.6,100\n11,4.6,100\n11.5,4.6,100\n3,4.7,64.9\n3.5,4.7,75.8\n4,4.7,86.6\n4.5,4.7,97.4\n5,4.7,100\n5.5,4.7,100\n6,4.7,100\n6.5,4.7,100\n7,4.7,100\n7.5,4.7,100\n8,4.7,100\n8.5,4.7,100\n9,4.7,100\n9.5,4.7,100\n10,4.7,100\n10.5,4.7,100\n11,4.7,100\n11.5,4.7,100\n3,4.8,67.7\n3.5,4.8,79\n4,4.8,90.3\n4.5,4.8,100\n5,4.8,100\n5.5,4.8,100\n6,4.8,100\n6.5,4.8,100\n7,4.8,100\n7.5,4.8,100\n8,4.8,100\n8.5,4.8,100\n9,4.8,100\n9.5,4.8,100\n10,4.8,100\n10.5,4.8,100\n11,4.8,100\n11.5,4.8,100\n3,4.9,70.6\n3.5,4.9,82.4\n4,4.9,94.1\n4.5,4.9,100\n5,4.9,100\n5.5,4.9,100\n6,4.9,100\n6.5,4.9,100\n7,4.9,100\n7.5,4.9,100\n8,4.9,100\n8.5,4.9,100\n9,4.9,100\n9.5,4.9,100\n10,4.9,100\n10.5,4.9,100\n11,4.9,100\n11.5,4.9,100", "format": {"type": "csv", "parse": {"t": "number", "h": "number", "v": "number"}}},
  "mark": {"type": "rect", "stroke": "black", "strokeWidth": 1.5},
  "encoding": {
    "x": {"field": "t", "type": "quantitative", "bin": {"binned": true, "step": 0.5}, "scale": {"domain": [3, 12], "nice": false, "zero": false}, "axis": {"title": "Tp [s]", "values": [3,4,5,6,7,8,9,10,11,12], "format": "~g"}},
    "y": {"field": "h", "type": "quantitative", "bin": {"binned": true, "step": 0.1}, "scale": {"domain": [0.2, 5], "nice": false, "zero": false}, "axis": {"title": "Hs [m]", "values": [0.5,1,1.5,2,2.5,3,3.5,4,4.5,5], "format": "~g"}},
    "color": {"field": "v", "type": "quantitative", "scale": {"domain": [0,12.5,25,37.5,50,62.5,75,87.5,100], "range": ["#000080","#0000ff","#0080ff","#00ffff","#80ff80","#ffff00","#ff8000","#ff0000","#800000"], "interpolate": "rgb", "clamp": true, "zero": false, "nice": false}, "legend": {"title": null, "values": [10,20,30,40,50,60,70,80,90,100]}}
  }
 }
]
}
